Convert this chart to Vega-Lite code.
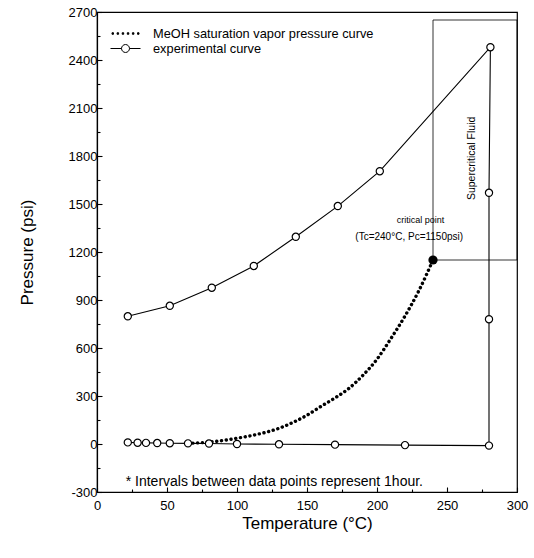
{
  "$schema": "https://vega.github.io/schema/vega-lite/v6.json",
  "width": 420,
  "height": 480,
  "autosize": {"type": "none"},
  "padding": {"left": 97, "top": 12, "right": 17, "bottom": 66},
  "background": "white",
  "config": {
    "font": "Liberation Sans",
    "view": {"stroke": "black", "strokeWidth": 1.2},
    "axis": {
      "grid": false,
      "domainColor": "black",
      "domainWidth": 1.2,
      "tickColor": "black",
      "tickWidth": 1.1,
      "labelColor": "black",
      "labelFontSize": 13,
      "labelFont": "Liberation Sans",
      "titleFont": "Liberation Sans",
      "titleFontSize": 17,
      "titleFontWeight": "normal",
      "titleColor": "black",
      "labelOverlap": false,
      "labelFlush": false
    }
  },
  "resolve": {"axis": {"x": "independent", "y": "independent"}},
  "datasets": {
    "curves": [
      {"series": "experimental curve", "order": 1, "t": 22, "p": 10},
      {"series": "experimental curve", "order": 2, "t": 29, "p": 8},
      {"series": "experimental curve", "order": 3, "t": 35, "p": 7},
      {"series": "experimental curve", "order": 4, "t": 43, "p": 6},
      {"series": "experimental curve", "order": 5, "t": 52, "p": 5},
      {"series": "experimental curve", "order": 6, "t": 65, "p": 4},
      {"series": "experimental curve", "order": 7, "t": 80, "p": 3},
      {"series": "experimental curve", "order": 8, "t": 100, "p": 0},
      {"series": "experimental curve", "order": 9, "t": 130, "p": -2},
      {"series": "experimental curve", "order": 10, "t": 170, "p": -4},
      {"series": "experimental curve", "order": 11, "t": 220, "p": -7},
      {"series": "experimental curve", "order": 12, "t": 280, "p": -10},
      {"series": "experimental curve", "order": 13, "t": 280, "p": 780},
      {"series": "experimental curve", "order": 14, "t": 280, "p": 1570},
      {"series": "experimental curve", "order": 15, "t": 281, "p": 2480},
      {"series": "experimental curve", "order": 16, "t": 202, "p": 1705},
      {"series": "experimental curve", "order": 17, "t": 172, "p": 1487},
      {"series": "experimental curve", "order": 18, "t": 142, "p": 1295},
      {"series": "experimental curve", "order": 19, "t": 112, "p": 1113},
      {"series": "experimental curve", "order": 20, "t": 82, "p": 977},
      {"series": "experimental curve", "order": 21, "t": 52, "p": 864},
      {"series": "experimental curve", "order": 22, "t": 22, "p": 798},
      {"series": "MeOH saturation vapor pressure curve", "order": 1, "t": 65, "p": 4},
      {"series": "MeOH saturation vapor pressure curve", "order": 2, "t": 80, "p": 12},
      {"series": "MeOH saturation vapor pressure curve", "order": 3, "t": 90, "p": 22},
      {"series": "MeOH saturation vapor pressure curve", "order": 4, "t": 100, "p": 36},
      {"series": "MeOH saturation vapor pressure curve", "order": 5, "t": 110, "p": 52},
      {"series": "MeOH saturation vapor pressure curve", "order": 6, "t": 120, "p": 72},
      {"series": "MeOH saturation vapor pressure curve", "order": 7, "t": 130, "p": 98},
      {"series": "MeOH saturation vapor pressure curve", "order": 8, "t": 140, "p": 135},
      {"series": "MeOH saturation vapor pressure curve", "order": 9, "t": 150, "p": 180},
      {"series": "MeOH saturation vapor pressure curve", "order": 10, "t": 160, "p": 235},
      {"series": "MeOH saturation vapor pressure curve", "order": 11, "t": 170, "p": 288},
      {"series": "MeOH saturation vapor pressure curve", "order": 12, "t": 180, "p": 348},
      {"series": "MeOH saturation vapor pressure curve", "order": 13, "t": 190, "p": 430},
      {"series": "MeOH saturation vapor pressure curve", "order": 14, "t": 200, "p": 530},
      {"series": "MeOH saturation vapor pressure curve", "order": 15, "t": 210, "p": 660},
      {"series": "MeOH saturation vapor pressure curve", "order": 16, "t": 220, "p": 800},
      {"series": "MeOH saturation vapor pressure curve", "order": 17, "t": 230, "p": 960},
      {"series": "MeOH saturation vapor pressure curve", "order": 18, "t": 240, "p": 1150}
    ],
    "labels": [
      {"text": "critical point", "t": 231, "p": 1400, "size": 9, "angle": 0},
      {"text": "(Tc=240°C, Pc=1150psi)", "t": 223, "p": 1294, "size": 10, "angle": 0},
      {"text": "Supercritical Fluid", "t": 267.5, "p": 1785, "size": 10.5, "angle": 270}
    ]
  },
  "encoding": {
    "x": {
      "field": "t", "type": "quantitative",
      "scale": {"domain": [0, 300], "nice": false, "zero": false},
      "axis": null
    },
    "y": {
      "field": "p", "type": "quantitative",
      "scale": {"domain": [-300, 2700], "nice": false, "zero": false},
      "axis": null
    }
  },
  "layer": [
    {
      "data": {"values": [{"t": 240, "t2": 300, "p": 1150, "p2": 2650}]},
      "mark": {"type": "rect", "fill": null, "fillOpacity": 0, "stroke": "black", "strokeWidth": 0.8},
      "encoding": {
        "x": {
          "field": "t", "type": "quantitative",
          "axis": {
            "orient": "bottom",
            "values": [25, 75, 125, 175, 225, 275],
            "tickSize": -3,
            "labels": false,
            "domain": false,
            "title": null
          }
        },
        "y": {
          "field": "p", "type": "quantitative",
          "axis": {
            "orient": "left",
            "values": [-150, 150, 450, 750, 1050, 1350, 1650, 1950, 2250, 2550],
            "tickSize": -3,
            "labels": false,
            "domain": false,
            "title": null
          }
        },
        "x2": {"field": "t2"},
        "y2": {"field": "p2"}
      }
    },
    {
      "data": {"name": "curves"},
      "transform": [{"filter": "datum.series === 'MeOH saturation vapor pressure curve'"}],
      "mark": {"type": "line", "color": "black", "strokeWidth": 3.4, "strokeCap": "round", "strokeDash": [0.1, 4.7], "interpolate": "monotone"},
      "encoding": {"order": {"field": "order", "type": "quantitative"}}
    },
    {
      "data": {"name": "curves"},
      "transform": [{"filter": "datum.series === 'experimental curve'"}],
      "mark": {"type": "line", "color": "black", "strokeWidth": 1.1},
      "encoding": {
        "x": {
          "field": "t", "type": "quantitative",
          "axis": {
            "orient": "bottom",
            "title": "Temperature (°C)",
            "values": [0, 50, 100, 150, 200, 250, 300],
            "tickSize": -5,
            "labelPadding": 12,
            "titleY": 23
          }
        },
        "y": {
          "field": "p", "type": "quantitative",
          "axis": {
            "orient": "left",
            "title": "Pressure (psi)",
            "values": [-300, 0, 300, 600, 900, 1200, 1500, 1800, 2100, 2400, 2700],
            "tickSize": -5,
            "labelPadding": 5,
            "labelExpr": "'' + datum.value",
            "titleX": -61
          }
        },
        "order": {"field": "order", "type": "quantitative"}
      }
    },
    {
      "data": {"name": "curves"},
      "transform": [{"filter": "datum.series === 'experimental curve'"}],
      "mark": {"type": "point", "shape": "circle", "filled": true, "fill": "white", "stroke": "black", "strokeWidth": 1.2, "size": 52, "opacity": 1},
      "encoding": {}
    },
    {
      "data": {"values": [{"t": 240, "p": 1150}]},
      "mark": {"type": "point", "shape": "circle", "filled": true, "color": "black", "size": 85, "opacity": 1},
      "encoding": {}
    },
    {
      "data": {"name": "labels"},
      "mark": {"type": "text", "color": "black", "baseline": "middle", "align": "center"},
      "encoding": {
        "text": {"field": "text"},
        "size": {"field": "size", "type": "quantitative", "scale": null},
        "angle": {"field": "angle", "type": "quantitative", "scale": null}
      }
    },
    {
      "data": {"values": [{"text": "* Intervals between data points represent 1hour.", "t": 20.5, "p": -237}]},
      "mark": {"type": "text", "color": "black", "baseline": "middle", "align": "left", "fontSize": 14},
      "encoding": {"text": {"field": "text"}}
    },
    {
      "data": {"values": [
        {"series": "MeOH saturation vapor pressure curve", "t": -60, "p": -900},
        {"series": "experimental curve", "t": -60, "p": -900}
      ]},
      "mark": {"type": "point", "filled": false, "clip": true, "strokeWidth": 1, "opacity": 1},
      "encoding": {
        "shape": {
          "field": "series", "type": "nominal",
          "scale": {
            "domain": ["MeOH saturation vapor pressure curve", "experimental curve"],
            "range": [
              "M-1.8,-0.1h0.2v0.2h-0.2z M-1.12,-0.1h0.2v0.2h-0.2z M-0.44,-0.1h0.2v0.2h-0.2z M0.24,-0.1h0.2v0.2h-0.2z M0.92,-0.1h0.2v0.2h-0.2z M1.6,-0.1h0.2v0.2h-0.2z",
              "M-2,0H-0.53M0.53,0H2M-0.53,0A0.53,0.53,0,1,1,0.53,0A0.53,0.53,0,1,1,-0.53,0Z"
            ]
          },
          "legend": {
            "title": null,
            "orient": "none",
            "legendX": 20.5,
            "legendY": 13.5,
            "padding": 0,
            "rowPadding": -1,
            "symbolSize": 225,
            "symbolStrokeWidth": 1,
            "labelFontSize": 12.8,
            "labelColor": "black",
            "labelOffset": 19.5,
            "labelLimit": 400
          }
        },
        "fill": {
          "field": "series", "type": "nominal",
          "scale": {
            "domain": ["MeOH saturation vapor pressure curve", "experimental curve"],
            "range": ["black", "white"]
          },
          "legend": {
            "title": null,
            "orient": "none",
            "legendX": 20.5,
            "legendY": 13.5,
            "padding": 0,
            "rowPadding": -1,
            "symbolSize": 225,
            "symbolStrokeWidth": 1,
            "labelFontSize": 12.8,
            "labelColor": "black",
            "labelOffset": 19.5,
            "labelLimit": 400
          }
        },
        "stroke": {
          "field": "series", "type": "nominal",
          "scale": {
            "domain": ["MeOH saturation vapor pressure curve", "experimental curve"],
            "range": ["black", "black"]
          },
          "legend": {
            "title": null,
            "orient": "none",
            "legendX": 20.5,
            "legendY": 13.5,
            "padding": 0,
            "rowPadding": -1,
            "symbolSize": 225,
            "symbolStrokeWidth": 1,
            "labelFontSize": 12.8,
            "labelColor": "black",
            "labelOffset": 19.5,
            "labelLimit": 400
          }
        }
      }
    }
  ]
}
